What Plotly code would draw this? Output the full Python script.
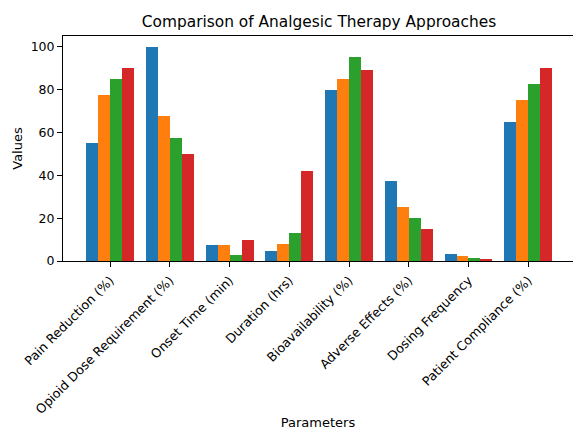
import plotly.graph_objects as go

categories = ["Pain Reduction (%)", "Opioid Dose Requirement (%)", "Onset Time (min)",
              "Duration (hrs)", "Bioavailability (%)", "Adverse Effects (%)",
              "Dosing Frequency", "Patient Compliance (%)"]

series_names = ["Approach 1", "Approach 2", "Approach 3", "Approach 4"]
approach1 = [55, 100, 7.5, 4.5, 80, 37.5, 3.5, 65]
approach2 = [77.5, 67.5, 7.5, 8, 85, 25, 2.5, 75]
approach3 = [85, 57.5, 3, 13, 95, 20, 1.5, 82.5]
approach4 = [90, 50, 10, 42, 89, 15, 1, 90]
colors = ["#1f77b4", "#ff7f0e", "#2ca02c", "#d62728"]

all_series = [approach1, approach2, approach3, approach4]
offsets = [-0.3, -0.1, 0.1, 0.3]
idx = list(range(len(categories)))

fig = go.Figure()
for name, vals, off, col in zip(series_names, all_series, offsets, colors):
    fig.add_trace(go.Bar(
        x=[i + off for i in idx], y=vals, width=0.2, name=name,
        marker=dict(color=col, line=dict(width=0)),
        showlegend=False,
    ))

fig.update_layout(
    width=573, height=430,
    margin=dict(l=63, r=0, t=36, b=169),
    plot_bgcolor="white", paper_bgcolor="white",
    font=dict(family="DejaVu Sans", size=13, color="#262626"),
    title=dict(text="Comparison of Analgesic Therapy Approaches",
               x=(63 + 575) / 2 / 573, xanchor="center", y=1 - 22 / 430, yanchor="middle",
               font=dict(size=15.4, color="black")),
    bargap=0,
    xaxis=dict(
        range=[-0.79, 7.75], tickmode="array", tickvals=idx, ticktext=categories,
        tickangle=-45, ticks="outside", ticklen=5, tickcolor="black",
        ticklabelstandoff=1,
        showline=True, linecolor="black", linewidth=1, mirror=True,
        showgrid=False, zeroline=False, automargin=False,
        title=dict(text="Parameters", standoff=10, font=dict(size=13, color="black")),
        tickfont=dict(size=12.7, color="black"),
    ),
    yaxis=dict(
        range=[0, 105], tickvals=[0, 20, 40, 60, 80, 100],
        ticks="outside", ticklen=5, tickcolor="black",
        showline=True, linecolor="black", linewidth=1,
        showgrid=False, zeroline=False, automargin=False,
        title=dict(text="Values", standoff=5, font=dict(size=13, color="black")),
        tickfont=dict(size=12.5, color="black"),
    ),
)

fig.write_html(
    "out.html",
    config={"displayModeBar": False},
    post_script="document.body.style.margin='0';document.body.style.padding='0';document.body.style.overflow='hidden';",
)
